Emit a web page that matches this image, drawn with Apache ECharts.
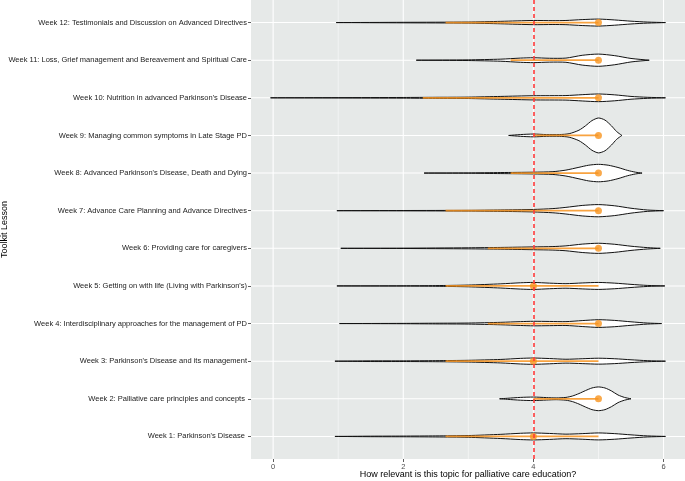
<!DOCTYPE html>
<html><head><meta charset="utf-8">
<script src="https://cdn.jsdelivr.net/npm/echarts@6/dist/echarts.min.js"></script>
<style>html,body{margin:0;padding:0;background:#fff}#c{width:685px;height:481px}</style>
</head><body><div id="c"></div>
<script>
// Categories, bottom (value 1) to top (value 12)
const categories = [
  "Week 1: Parkinson's Disease ",
  "Week 2: Palliative care principles and concepts ",
  "Week 3: Parkinson's Disease and its management",
  "Week 4: Interdisciplinary approaches for the management of PD",
  "Week 5: Getting on with life (Living with Parkinson's)",
  "Week 6: Providing care for caregivers",
  "Week 7: Advance Care Planning and Advance Directives",
  "Week 8: Advanced Parkinson's Disease, Death and Dying",
  "Week 9: Managing common symptoms in Late Stage PD",
  "Week 10: Nutrition in advanced Parkinson's Disease",
  "Week 11: Loss, Grief management and Bereavement and Spiritual Care",
  "Week 12: Testimonials and Discussion on Advanced Directives"
];
const categoryPositions = [1,2,3,4,5,6,7,8,9,10,11,12];

// Violin density profiles: [score, relative density]
const densityW1  = [[0.95,0],[1.5,0.015],[2,0.02],[2.5,0.03],[3,0.05],[3.5,0.12],[3.8,0.18],[4,0.2],[4.25,0.17],[4.5,0.13],[4.75,0.16],[5,0.2],[5.25,0.16],[5.5,0.09],[5.75,0.03],[6.03,0]];
const densityW2  = [[3.48,0],[3.6,0.03],[3.8,0.08],[4,0.1],[4.2,0.07],[4.35,0.05],[4.5,0.08],[4.6,0.16],[4.7,0.3],[4.8,0.47],[4.9,0.62],[5,0.68],[5.1,0.62],[5.2,0.45],[5.3,0.22],[5.4,0.08],[5.5,0]];
const densityW3  = [[0.95,0],[1.5,0.02],[2,0.02],[2.5,0.03],[3,0.05],[3.5,0.1],[3.8,0.16],[4,0.18],[4.25,0.15],[4.5,0.11],[4.75,0.14],[5,0.17],[5.25,0.14],[5.5,0.08],[5.75,0.03],[6.03,0]];
const densityW4  = [[1.02,0],[2,0.01],[2.5,0.02],[3,0.03],[3.5,0.07],[3.8,0.11],[4,0.13],[4.25,0.12],[4.5,0.11],[4.75,0.17],[5,0.22],[5.25,0.18],[5.5,0.1],[5.75,0.03],[5.97,0]];
const densityW5  = [[0.98,0],[2,0.01],[2.5,0.02],[3,0.05],[3.5,0.12],[3.8,0.18],[4,0.2],[4.25,0.16],[4.5,0.13],[4.75,0.17],[5,0.2],[5.25,0.16],[5.5,0.09],[5.75,0.03],[6.02,0]];
const densityW6  = [[1.04,0],[2,0.01],[3,0.03],[3.5,0.05],[4,0.08],[4.3,0.1],[4.5,0.14],[4.75,0.24],[5,0.29],[5.25,0.23],[5.5,0.12],[5.75,0.04],[5.95,0]];
const densityW7  = [[0.98,0],[2,0.01],[3,0.02],[3.5,0.04],[4,0.07],[4.3,0.12],[4.5,0.19],[4.75,0.3],[5,0.35],[5.25,0.28],[5.5,0.14],[5.75,0.04],[6,0]];
const densityW8  = [[2.32,0],[3,0.01],[3.5,0.03],[4,0.05],[4.3,0.08],[4.5,0.17],[4.7,0.33],[4.85,0.45],[5,0.5],[5.15,0.45],[5.3,0.32],[5.45,0.15],[5.57,0.05],[5.67,0]];
const densityW9  = [[3.62,0],[3.8,0.05],[4,0.08],[4.2,0.05],[4.4,0.05],[4.55,0.1],[4.7,0.3],[4.8,0.55],[4.9,0.85],[5,1],[5.1,0.88],[5.2,0.55],[5.28,0.22],[5.36,0]];
const densityW10 = [[-0.04,0],[1,0.01],[2,0.02],[2.5,0.03],[3,0.04],[3.5,0.08],[4,0.12],[4.5,0.13],[4.75,0.18],[5,0.22],[5.25,0.17],[5.5,0.08],[5.75,0.03],[6.03,0]];
const densityW11 = [[2.2,0],[3,0.02],[3.5,0.06],[3.8,0.12],[4,0.14],[4.25,0.11],[4.5,0.12],[4.75,0.28],[5,0.35],[5.25,0.26],[5.5,0.1],[5.78,0]];
const densityW12 = [[0.97,0],[2,0.015],[3,0.03],[3.5,0.07],[4,0.12],[4.3,0.11],[4.5,0.12],[4.75,0.17],[5,0.2],[5.25,0.15],[5.5,0.08],[5.75,0.03],[6.03,0]];
const violinProfiles = [densityW1,densityW2,densityW3,densityW4,densityW5,densityW6,densityW7,densityW8,densityW9,densityW10,densityW11,densityW12];

// Summary (orange): low end, high end, point
const summaryLow   = [2.65, 4.0, 2.65, 3.3, 2.65, 3.3, 2.65, 3.65, 4.0, 2.3, 3.65, 2.65];
const summaryHigh  = [5, 5, 5, 5, 5, 5, 5, 5, 5, 5, 5, 5];
const summaryPoint = [4, 5, 4, 5, 4, 5, 5, 5, 5, 5, 5, 5];

const refLine = 4;
const xTicks = [0, 2, 4, 6];
const xGridMajor = [0, 2, 4, 6];
const xGridMinor = [1, 3, 5];

const FONT = "'Liberation Sans', Arial, sans-serif";
const ORANGE = '#f7931e';
const Y_MIN = 0.4, Y_MAX = 12.6;
const X_MIN = -0.34, X_MAX = 6.33;

function vGridRender(width) {
  return function (params, api) {
    const x = api.value(0);
    const p1 = api.coord([x, Y_MIN]);
    const p2 = api.coord([x, Y_MAX]);
    return { type: 'line', shape: { x1: p1[0], y1: p1[1], x2: p2[0], y2: p2[1] },
             style: { stroke: '#ffffff', lineWidth: width } };
  };
}

const chart = echarts.init(document.getElementById('c'), null, { renderer: 'canvas' });
chart.setOption({
  animation: false,
  backgroundColor: '#ffffff',
  grid: { left: 251, right: 0, top: 0, bottom: 22, show: true, backgroundColor: '#e6e9e8', borderWidth: 0,
          containLabel: false, outerBoundsMode: 'none' },
  xAxis: {
    type: 'value', min: X_MIN, max: X_MAX,
    axisLine: { show: false, onZero: false },
    axisTick: { show: true, customValues: xTicks, length: 3, lineStyle: { color: '#333', width: 0.8 } },
    axisLabel: { customValues: xTicks, fontSize: 7.5, color: '#4d4d4d', margin: 4, fontFamily: FONT },
    splitLine: { show: false },
    name: 'How relevant is this topic for palliative care education?',
    nameLocation: 'middle', nameGap: 11, nameMoveOverlap: false,
    nameTextStyle: { fontSize: 9, color: '#000', fontFamily: FONT, verticalAlign: 'top' }
  },
  yAxis: {
    type: 'value', min: Y_MIN, max: Y_MAX,
    axisLine: { show: false, onZero: false },
    axisTick: { show: true, customValues: categoryPositions, length: 3, lineStyle: { color: '#333', width: 0.8 } },
    axisLabel: { customValues: categoryPositions, fontSize: 7.5, color: '#222', margin: 4, fontFamily: FONT,
                 formatter: v => categories[Math.round(v) - 1] },
    splitLine: { show: false },
    name: 'Toolkit Lesson', nameLocation: 'middle', nameGap: 246, nameRotate: 90, nameMoveOverlap: false,
    nameTextStyle: { fontSize: 9, color: '#000', fontFamily: FONT, verticalAlign: 'middle' }
  },
  series: [
    { type: 'custom', z: 1, silent: true, data: xGridMinor.map(v => [v, 1]), encode: { x: 0, y: 1 },
      renderItem: vGridRender(0.5), clip: true },
    { type: 'custom', z: 1, silent: true, data: xGridMajor.map(v => [v, 1]), encode: { x: 0, y: 1 },
      renderItem: vGridRender(1.1), clip: true },
    { type: 'custom', z: 2, silent: true,
      data: categoryPositions.map((p, i) => [summaryPoint[i], p]), encode: { x: 0, y: 1 },
      renderItem: function (params, api) {
        const i = params.dataIndex;
        const yv = categoryPositions[i];
        const band = api.size([0, 1])[1];
        const scale = band * 0.464;
        const prof = violinProfiles[i];
        const top = [], bot = [];
        prof.forEach(([x, d]) => {
          const c = api.coord([x, yv]);
          top.push([c[0], c[1] - d * scale]);
          bot.push([c[0], c[1] + d * scale]);
        });
        const pts = top.concat(bot.reverse());
        const l1 = api.coord([X_MIN, yv]), l2 = api.coord([X_MAX, yv]);
        const o1 = api.coord([summaryLow[i], yv]), o2 = api.coord([summaryHigh[i], yv]);
        return { type: 'group', children: [
          { type: 'line', shape: { x1: l1[0], y1: l1[1], x2: l2[0], y2: l2[1] }, style: { stroke: '#ffffff', lineWidth: 1.1 } },
          { type: 'polygon', shape: { points: pts, smooth: 0.25 }, style: { fill: '#ffffff', stroke: '#111111', lineWidth: 1 } },
          { type: 'line', shape: { x1: o1[0], y1: o1[1], x2: o2[0], y2: o2[1] }, style: { stroke: ORANGE, lineWidth: 1.8, opacity: 0.85 } }
        ] };
      }
    },
    { type: 'line', data: [], z: 3, silent: true,
      markLine: { symbol: 'none', silent: true, label: { show: false },
        lineStyle: { color: '#ff3a3a', type: [4, 3], width: 1.6 },
        data: [{ xAxis: refLine }] } },
    { type: 'scatter', z: 4, silent: true, symbol: 'circle', symbolSize: 7,
      itemStyle: { color: ORANGE },
      data: categoryPositions.map((p, i) => [summaryPoint[i], p]) }
  ]
});
</script></body></html>
